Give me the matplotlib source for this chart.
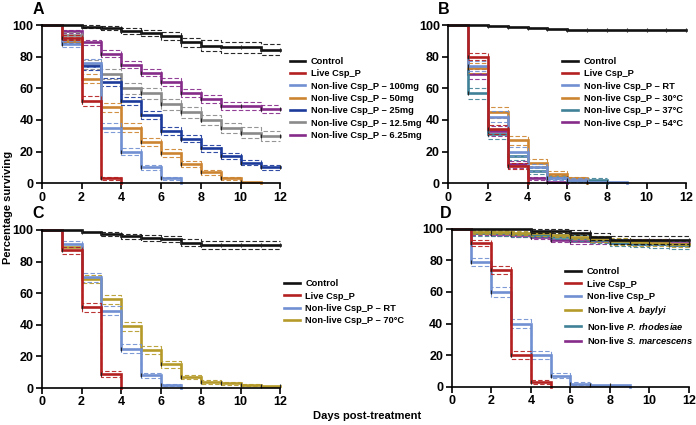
import numpy as np
import matplotlib
matplotlib.use('Agg')
import matplotlib.pyplot as plt

plt.rcParams['font.family'] = ['Liberation Sans', 'DejaVu Sans']
plt.rcParams['font.weight'] = 'bold'
plt.rcParams['mathtext.fontset'] = 'custom'
plt.rcParams['mathtext.bfit'] = 'Liberation Sans:bold:italic'
plt.rcParams['mathtext.it'] = 'Liberation Sans:italic'

# Datos: % surviving per day (value holds from day i to day i+1)
a_labels = ['Control', 'Live Csp_P', 'Non-live Csp_P \u2013 100mg', 'Non-live Csp_P \u2013 50mg',
            'Non-live Csp_P \u2013 25mg', 'Non-live Csp_P \u2013 12.5mg', 'Non-live Csp_P \u2013 6.25mg']
a_control = [100, 100, 99, 98, 96.5, 95, 93, 89, 87, 86, 86, 84.5, 84.5]
a_live = [100, 92, 52, 3, 0]
a_100mg = [100, 88, 76, 35, 20, 10, 3, 0]
a_50mg = [100, 90, 66, 48, 35, 26, 19, 12, 7, 3, 1, 0]
a_25mg = [100, 90, 74, 64, 52, 43, 33, 28, 22, 17, 13, 10, 10]
a_12mg = [100, 94, 75, 69, 60, 57, 50, 45, 40, 35, 32, 30, 30]
a_6mg = [100, 96, 89, 82, 75, 70, 64, 57, 53, 49, 49, 47, 47]
# approximate max CI half-width per curve
a_ci = [5, 3, 3, 3, 2.5, 3.5, 2.5]

b_labels = ['Control', 'Live Csp_P', 'Non-live Csp_P \u2013 RT', 'Non-live Csp_P \u2013 30\u00b0C',
            'Non-live Csp_P \u2013 37\u00b0C', 'Non-live Csp_P \u2013 54\u00b0C']
b_control = [100, 100, 99.5, 99, 98, 97.5, 97, 97, 97, 97, 97, 97, 97]
b_live = [100, 80, 34, 11, 0]
b_rt = [100, 74, 42, 20, 10, 3, 2, 1, 1, 0]
b_30c = [100, 73, 45, 27, 13, 6, 3, 0]
b_37c = [100, 57, 31, 17, 8, 4, 2, 2, 0]
b_54c = [100, 69, 33, 12, 3, 1, 0]
b_ci = [0, 3, 3.5, 3.5, 3.5, 3.5]

c_labels = ['Control', 'Live Csp_P', 'Non-live Csp_P \u2013 RT', 'Non-live Csp_P \u2013 70\u00b0C']
c_control = [100, 100, 99, 97.5, 96, 95, 94, 92, 90.5, 90.5, 90.5, 90.5, 90.5]
c_live = [100, 87, 51, 9, 0]
c_rt = [100, 91, 70, 49, 25, 8, 2, 0]
c_70c = [100, 89, 69, 56, 39, 24, 15, 7, 4, 3, 2, 1, 1]
c_ci = [4, 3, 3, 3]

d_labels = ['Control', 'Live Csp_P', 'Non-live Csp_P', 'Non-live $\\mathbfit{A.\\:baylyi}$',
            'Non-live $\\mathbfit{P.\\:rhodesiae}$', 'Non-live $\\mathbfit{S.\\:marcescens}$']
d_control = [100, 100, 100, 100, 98.5, 98.5, 97.5, 95, 93, 93, 93, 93, 93]
d_live = [100, 91, 74, 20, 3, 0]
d_nonlive = [100, 79, 60, 40, 20, 7, 2, 1, 1, 0]
d_baylyi = [100, 98, 98, 97.5, 97, 96, 95, 93.5, 92, 91.5, 91, 90.5, 90.5]
d_rhodesiae = [100, 97, 97, 96.5, 96, 95, 94, 93, 91, 90.5, 90, 89.5, 89.5]
d_marcescens = [100, 97, 96.5, 96, 95, 93, 92, 92, 92, 91.5, 91.5, 91, 91]
d_ci = [5, 3, 3, 4, 4, 3]

col_ctrl = '#111111'
col_live = '#b3201f'
col_lblue = '#7090d2'
col_orange = '#cc8430'
col_dblue = '#1c3a9a'
col_gray = '#8a8a8a'
col_purple = '#862b8a'
col_teal = '#3f8196'
col_olive = '#b59a2a'

fig = plt.figure(figsize=(6.96, 4.25), dpi=100)
axA = fig.add_axes([0.060, 0.569, 0.343, 0.372])
axB = fig.add_axes([0.644, 0.569, 0.342, 0.372])
axC = fig.add_axes([0.060, 0.087, 0.343, 0.372])
axD = fig.add_axes([0.649, 0.090, 0.341, 0.372])


def km_panel(ax, series, labels, colors, cis, leg_xy):
    handles = []
    for vals, lab, col, ci in reversed(list(zip(series, labels, colors, cis))):
        v = np.array(vals, dtype=float)
        d = np.arange(len(v))
        if ci > 0:
            # band narrows near 0 and 100 like a KM confidence band
            w = ci * np.sqrt(v * (100 - v)) / 50
            ok = (v > 0) & (w > 0.8)
            up = np.where(ok, np.minimum(v + w, 100), np.nan)
            lo = np.where(ok, v - w, np.nan)
            for b in (up, lo):
                ax.step(d, b, where='post', color=col, lw=0.8, ls=(0, (4, 2)),
                        alpha=0.9, clip_on=False)
        h, = ax.step(d, v, where='post', color=col, lw=1.9, clip_on=False,
                     solid_joinstyle='miter', label=lab)
        # small censor ticks on the curve
        m = (v > 0) & (v < 100)
        ax.plot(d[m], v[m], ls='none', marker='|', ms=3, mew=0.8, color='#222222',
                clip_on=False)
        handles.append(h)
    handles = handles[::-1]
    ax.set_xlim(0, 12)
    ax.set_ylim(0, 100)
    ax.set_xticks(range(0, 13, 2))
    ax.set_yticks(range(0, 101, 20))
    for s in ('top', 'right'):
        ax.spines[s].set_visible(False)
    for s in ('left', 'bottom'):
        ax.spines[s].set_linewidth(1.2)
    ax.tick_params(direction='out', length=4, width=1.2, labelsize=9, pad=2)
    for t in ax.get_xticklabels() + ax.get_yticklabels():
        t.set_fontweight('bold')
    fig.legend(handles=handles, labels=labels, loc='upper left', bbox_to_anchor=leg_xy,
               frameon=False, fontsize=6.7, handlelength=1.7, handletextpad=0.6,
               labelspacing=0.36, borderpad=0, borderaxespad=0)


km_panel(axA, [a_control, a_live, a_100mg, a_50mg, a_25mg, a_12mg, a_6mg], a_labels,
         [col_ctrl, col_live, col_lblue, col_orange, col_dblue, col_gray, col_purple], a_ci,
         (0.416, 0.866))
km_panel(axB, [b_control, b_live, b_rt, b_30c, b_37c, b_54c], b_labels,
         [col_ctrl, col_live, col_lblue, col_orange, col_teal, col_purple], b_ci,
         (0.808, 0.866))
km_panel(axC, [c_control, c_live, c_rt, c_70c], c_labels,
         [col_ctrl, col_live, col_lblue, col_olive], c_ci,
         (0.408, 0.343))
km_panel(axD, [d_control, d_live, d_nonlive, d_baylyi, d_rhodesiae, d_marcescens], d_labels,
         [col_ctrl, col_live, col_lblue, col_olive, col_teal, col_purple], d_ci,
         (0.812, 0.371))

for lab, x, y in [('A', 0.047, 0.995), ('B', 0.629, 0.995), ('C', 0.047, 0.515), ('D', 0.632, 0.515)]:
    fig.text(x, y, lab, fontsize=11.5, fontweight='bold', va='top')

fig.text(0.012, 0.512, 'Percentage surviving', rotation=90, fontsize=8, fontweight='bold',
         va='center', ha='center')
fig.text(0.527, 0.021, 'Days post-treatment', fontsize=8, fontweight='bold',
         va='center', ha='center')

fig.savefig('out.png', dpi=100)
